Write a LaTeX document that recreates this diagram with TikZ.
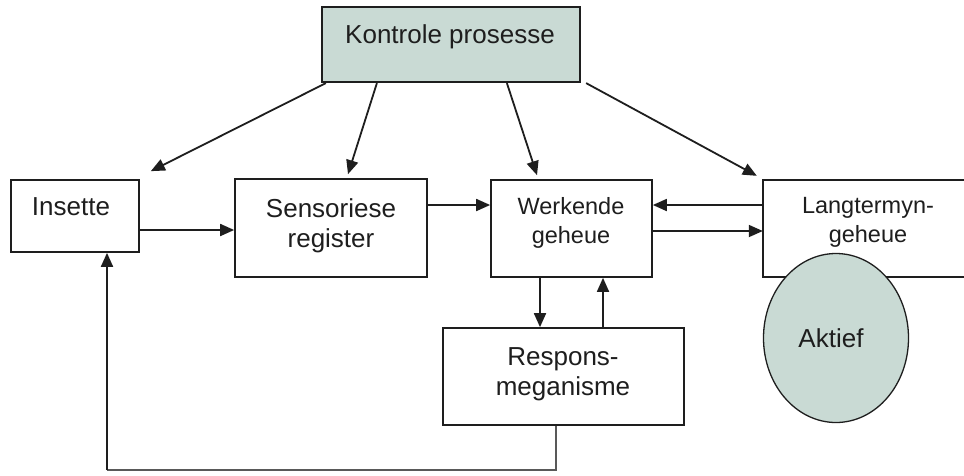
\documentclass[tikz,border=0pt]{standalone}
\usepackage{fontspec}
\setmainfont{Liberation Sans}
\usetikzlibrary{arrows.meta,shapes.geometric}
\definecolor{panel}{HTML}{C9DAD4}
\definecolor{ink}{HTML}{1E1E1E}
\begin{document}
\begin{tikzpicture}[x=1pt,y=-1pt,
  box/.style={draw=ink,line width=1.7pt,rectangle,inner sep=0pt},
  bigtxt/.style={font=\fontsize{26}{30}\selectfont,align=center,anchor=base,inner sep=0pt,text=ink},
  smalltxt/.style={font=\fontsize{23.5}{29}\selectfont,align=center,anchor=base,inner sep=0pt,text=ink},
  arr/.style={-{Triangle[length=14pt,width=12pt]},line width=1.8pt,draw=ink}]
\useasboundingbox[fill=white] (0,0) rectangle (964,475);

% boxes
\node[box,fill=panel,line width=2.2pt,minimum width=258pt,minimum height=75pt] (kon) at (451,44.5) {};
\node[box,minimum width=128pt,minimum height=72pt] (ins) at (75,216) {};
\node[box,minimum width=192pt,minimum height=98pt] (sen) at (331,228) {};
\node[box,minimum width=161pt,minimum height=97pt] (wer) at (571.5,228.5) {};
\node[inner sep=0pt,minimum width=201pt,minimum height=97pt] (lt) at (863.5,228.5) {};
\draw[ink,line width=1.7pt] (lt.north east) -- (lt.north west) -- (lt.south west) -- (lt.south east);
\node[box,minimum width=241pt,minimum height=97pt] (resp) at (563.5,376.5) {};
\node[draw=ink,line width=1.3pt,fill=panel,ellipse,minimum width=145pt,minimum height=169pt,inner sep=0pt] (akt) at (836,338) {};

% labels (base anchor sits on the last line)
\node[bigtxt] (kon-t) at (450,43) {Kontrole prosesse};
\node[bigtxt] (ins-t) at (71,215) {Insette};
\node[bigtxt] (sen-t) at (331,247) {Sensoriese\\register};
\node[smalltxt] (wer-t) at (571,243) {Werkende\\geheue};
\node[smalltxt] (lt-t) at (868,242) {Langtermyn-\\geheue};
\node[bigtxt] (resp-t) at (563,395) {Respons-\\meganisme};
\node[bigtxt] (akt-t) at (831,347) {Aktief};

% control arrows
\draw[arr] ([xshift=5pt]kon.south west) -- ([xshift=11pt,yshift=8pt]ins.north east);
\draw[arr] ([xshift=56pt]kon.south west) -- ([xshift=17pt,yshift=4pt]sen.north);
\draw[arr] ([xshift=186pt]kon.south west) -- ([xshift=-34.5pt,yshift=4pt]wer.north);
\draw[arr] ([xshift=5pt]kon.south east) -- ([xshift=-6pt,yshift=4pt]lt.north west);

% information flow
\draw[arr] ([yshift=-14pt]ins.east) -- ([yshift=-2pt]sen.west);
\draw[arr] ([yshift=23pt]sen.east) -- ([yshift=23.5pt]wer.west);
\draw[arr] ([yshift=23.5pt]lt.west) -- ([yshift=23.5pt]wer.east);
\draw[arr] ([yshift=-2.5pt]wer.east) -- ([yshift=-2.5pt]lt.west);
\draw[arr] ([xshift=-31.5pt]wer.south) -- ([xshift=-23.5pt]resp.north);
\draw[arr] ([xshift=39.5pt]resp.north) -- ([xshift=31.5pt]wer.south);

% feedback loop
\coordinate (fb) at (107,470);
\draw[gray!70!black,line width=1.2pt] ([xshift=-7.5pt]resp.south) |- (fb);
\draw[arr] (fb) -- ([xshift=32pt]ins.south);
\end{tikzpicture}
\end{document}
